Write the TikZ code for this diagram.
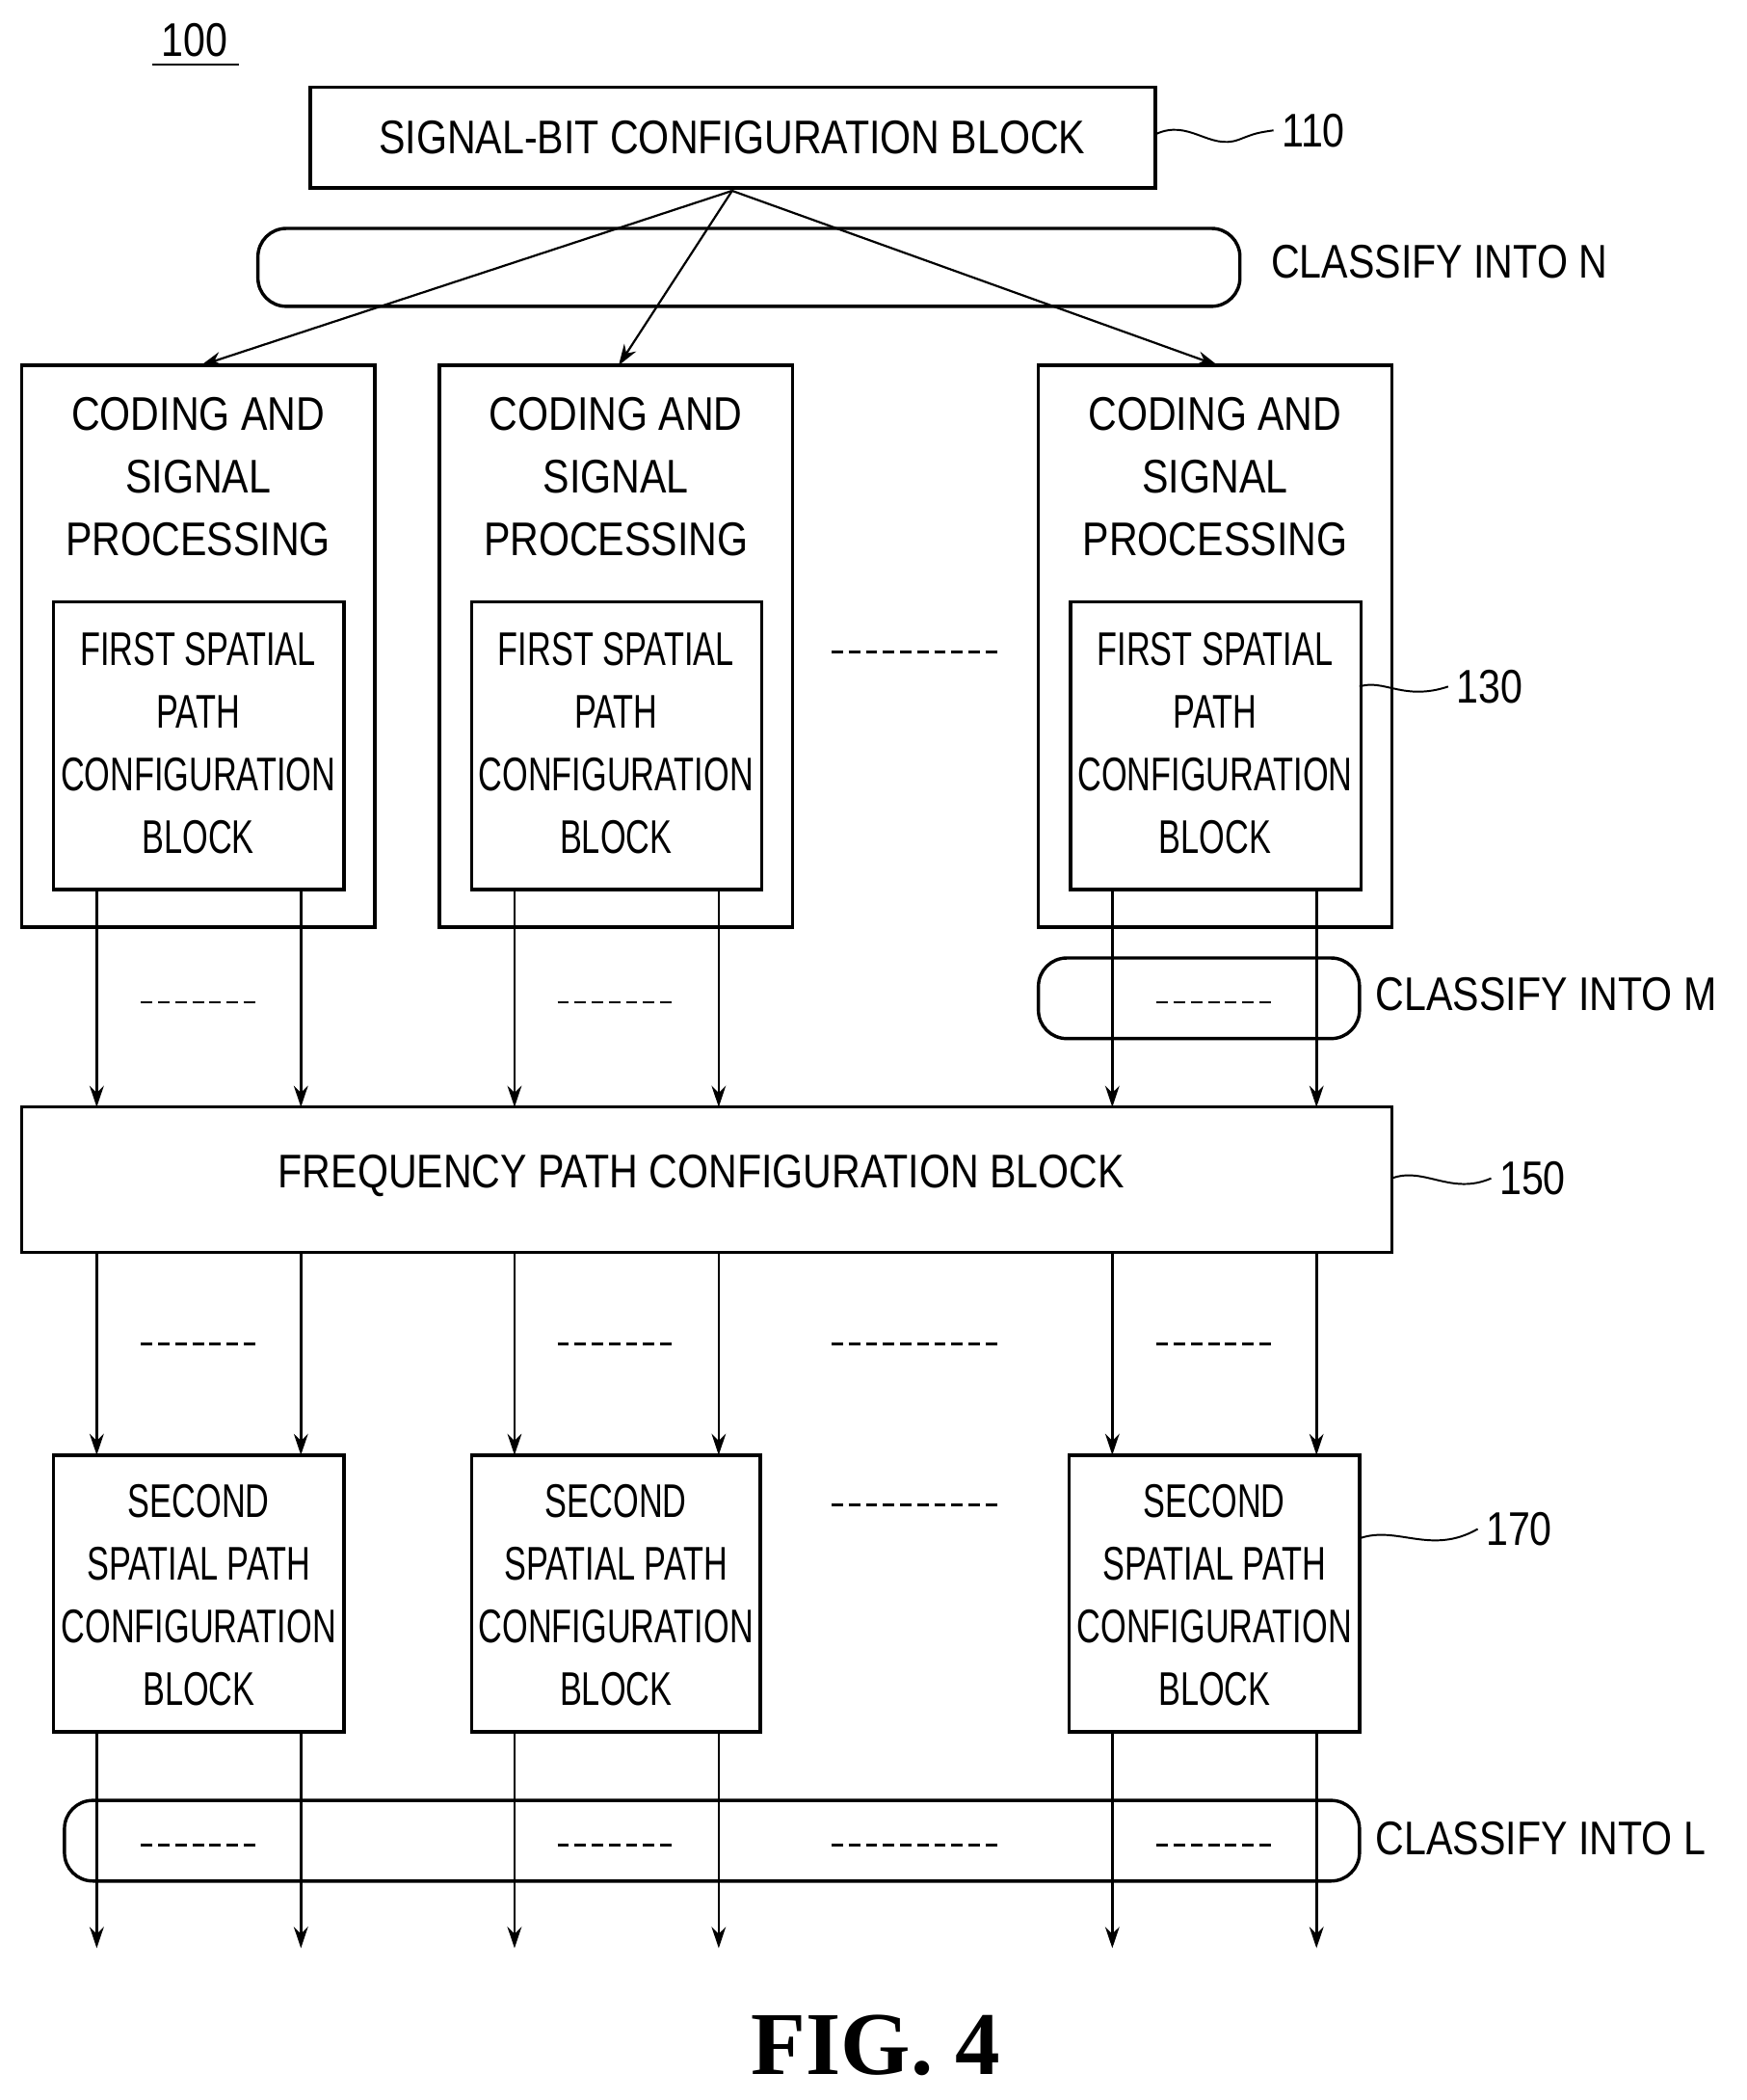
\documentclass[tikz,border=0pt]{standalone}
\usepackage{fontspec}
\setmainfont{Liberation Sans}[FakeStretch=0.84]
\newfontfamily\narrowfont{Liberation Sans}[FakeStretch=0.7]
\newfontfamily\figfont{Liberation Serif}
\usetikzlibrary{positioning,calc,arrows.meta}
\tikzset{
  blk/.style={draw,line width=1.4pt,inner sep=0pt},
  grp/.style={draw,line width=1.4pt,rounded corners=12pt,inner sep=0pt},
  arr/.style={line width=1.1pt,-{Stealth[length=9pt,width=6pt]}},
  big/.style={font=\fontsize{20}{26.5}\selectfont,align=center},
  thin/.style={font=\narrowfont\fontsize{20}{26.5}\selectfont,align=center},
  lbl/.style={font=\fontsize{20}{24}\selectfont,anchor=west},
  dots/.style={line width=1.2pt,dash pattern=on 0.17cm off 0.085cm},
  wave/.style={line width=0.8pt}
}
\newcommand\dashrow[3]{\draw[dots] (#1-#3,#2) -- (#1+#3,#2);}
\begin{document}
\begin{tikzpicture}[x=0.02cm,y=-0.02cm]
\useasboundingbox (0,0) rectangle (1300,1563);
% reference number
\node[font=\fontsize{20}{24}\selectfont] (ref) at (145,30) {100};
\draw[line width=1pt] (113,48) -- (178,48);
% top block
\draw[blk] (231,65) rectangle (860,140);
\node[big] (top) at (545,102) {SIGNAL-BIT CONFIGURATION BLOCK};
\coordinate (topE) at (860,100);
\node[lbl] (n110) at (948,97) {110};
\draw[wave] (topE) .. controls (885,88) and (900,112) .. (922,104) .. controls (935,99) .. (n110.west);
% classify N
\draw[grp] (192,170) rectangle (923,228);
\node[lbl] (clsN) at (940,195) {CLASSIFY INTO N};
\coordinate (split) at (545,142);
% coding blocks
\foreach \i/\xa/\xb in {1/16/279,2/327/590,3/773/1036}{
  \draw[blk] (\xa,272) rectangle (\xb,690);
  \node[big] (cod\i) at ({(\xa+\xb)/2},355) {CODING AND\\SIGNAL\\PROCESSING};
  \coordinate (codN\i) at ({(\xa+\xb)/2+2},272);
  \draw[blk] (\xa+24,448) rectangle (\xb-23,662);
  \node[thin] (fir\i) at ({(\xa+\xb)/2},553) {FIRST SPATIAL\\PATH\\CONFIGURATION\\BLOCK};
}
\foreach \i in {1,2,3} \draw[arr,line width=0.9pt] (split) -- (codN\i);
\dashrow{681}{485}{62}
\coordinate (firE) at (1012,511);
\node[lbl] (n130) at (1078,511) {130};
\draw[wave] (firE) .. controls (1030,505) and (1045,522) .. (n130.west);
% classify M
\draw[grp] (773,713) rectangle (1012,773);
\node[lbl] (clsM) at (1018,740) {CLASSIFY INTO M};
% frequency block
\draw[blk] (16,824) rectangle (1036,932);
\node[big] (freq) at (522,875) {FREQUENCY PATH CONFIGURATION BLOCK};
\coordinate (freqE) at (1036,877);
\node[lbl] (n150) at (1110,877) {150};
\draw[wave] (freqE) .. controls (1060,868) and (1080,890) .. (n150.west);
% second blocks
\foreach \i/\xa/\xb in {1/40/256,2/351/566,3/796/1012}{
  \draw[blk] (\xa,1083) rectangle (\xb,1289);
  \node[thin] (sec\i) at ({(\xa+\xb)/2},1187) {SECOND\\SPATIAL PATH\\CONFIGURATION\\BLOCK};
}
\dashrow{681}{1120}{62}
\coordinate (secE) at (1012,1145);
\node[lbl] (n170) at (1100,1138) {170};
\draw[wave] (secE) .. controls (1040,1135) and (1065,1158) .. (n170.west);
% classify L
\draw[grp] (48,1340) rectangle (1012,1400);
\node[lbl] (clsL) at (1018,1368) {CLASSIFY INTO L};
% path arrows
\foreach \x in {72,224,383,535,828,980}{
  \draw[arr] (\x,662) -- (\x,824);
  \draw[arr] (\x,932) -- (\x,1083);
  \draw[arr] (\x,1289) -- (\x,1450);
}
\foreach \x in {148,458,904}{
  \dashrow{\x}{746}{43}
  \dashrow{\x}{1000}{43}
  \dashrow{\x}{1373}{43}
}
\dashrow{681}{1000}{62}
\dashrow{681}{1373}{62}
% caption
\node[font=\figfont\bfseries\fontsize{38}{42}\selectfont] (fig) at (652,1522) {FIG. 4};
\end{tikzpicture}
\end{document}
